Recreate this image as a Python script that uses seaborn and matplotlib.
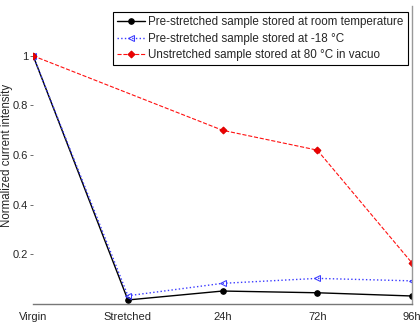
import numpy as np
import pandas as pd
import matplotlib
matplotlib.use("Agg")
import matplotlib.pyplot as plt
import seaborn as sns

stages = ["Virgin", "Stretched", "24h", "72h", "96h"]
room_temp = [1.0, 0.016, 0.052, 0.045, 0.032]
minus18 = [1.0, 0.033, 0.083, 0.103, 0.093]
vacuo80 = [1.0, np.nan, 0.70, 0.62, 0.165]

sns.set_style("white")
plt.rcParams['font.family'] = ['Liberation Sans', 'DejaVu Sans']

fig = plt.figure(figsize=(4.2, 3.3), dpi=100)
ax = fig.add_axes([0.079, 0.079, 0.902, 0.902])

x = np.arange(len(stages))
d1 = pd.DataFrame({"x": x, "y": room_temp})
d2 = pd.DataFrame({"x": x, "y": minus18})
d3 = pd.DataFrame({"x": x, "y": vacuo80}).dropna()

sns.lineplot(data=d1, x="x", y="y", ax=ax, color="black", lw=1, marker="o",
             ms=4, mec="black", label="Pre-stretched sample stored at room temperature")
sns.lineplot(data=d2, x="x", y="y", ax=ax, color="#3a3aff", lw=1, ls=":", marker="<",
             ms=5, mfc="none", mec="#3a3aff",
             label="Pre-stretched sample stored at -18 \u00b0C")
sns.lineplot(data=d3, x="x", y="y", ax=ax, color="#ff1010", lw=0.8, ls="--", marker="D",
             ms=3.5, mec="#dd0000", mfc="#ee0000",
             label="Unstretched sample stored at 80 \u00b0C in vacuo")

ax.set_xlim(0, 4)
ax.set_ylim(0, 1.2)
ax.set_xticks(x)
ax.set_xticklabels(stages, fontsize=8)
ax.set_yticks([0.2, 0.4, 0.6, 0.8, 1.0])
ax.set_yticklabels(["0.2", "0.4", "0.6", "0.8", "1"], fontsize=8)
ax.tick_params(axis="x", length=0, pad=6)
ax.tick_params(axis="y", left=True, length=2, width=0.6, color="#555555", pad=1.5)
ax.set_xlabel("")
ax.set_ylabel("Normalized current intensity", fontsize=8.3)
ax.yaxis.set_label_coords(-0.054, 0.5)

ax.spines["left"].set_visible(False)
ax.spines["top"].set_visible(False)
ax.spines["bottom"].set_color("#777777")
ax.spines["right"].set_color("#999999")
ax.spines["bottom"].set_linewidth(1)
ax.spines["right"].set_linewidth(1)

leg = ax.legend(loc="upper right", bbox_to_anchor=(0.989, 0.981), fontsize=8.4,
                frameon=True, fancybox=False, framealpha=1, handlelength=2.4,
                handletextpad=0.3, borderpad=0.35, labelspacing=0.4, borderaxespad=0)
leg.get_frame().set_edgecolor("black")
leg.get_frame().set_linewidth(0.8)

fig.savefig("out.png", dpi=100)
